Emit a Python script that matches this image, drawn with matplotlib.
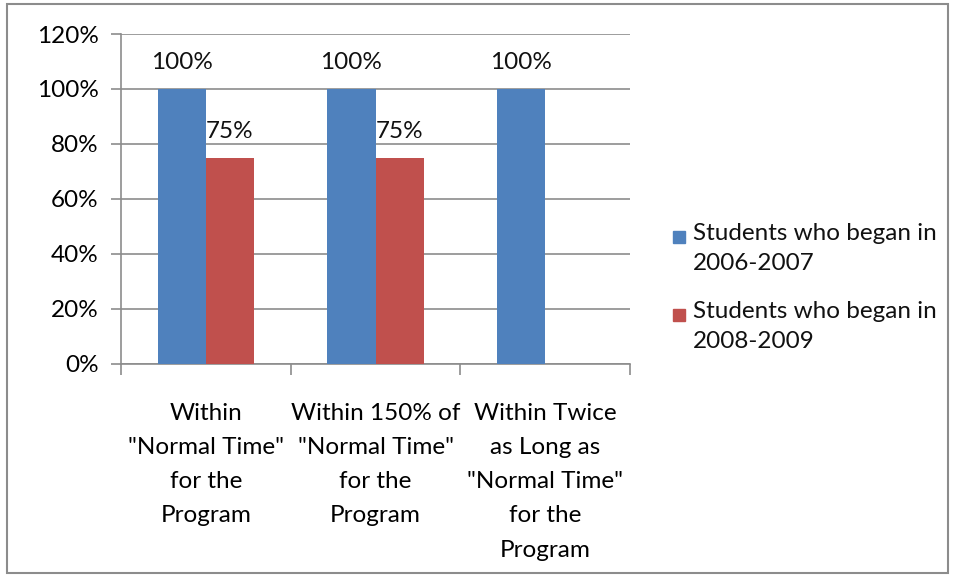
import matplotlib.pyplot as plt
from matplotlib.patches import Rectangle
from matplotlib.ticker import PercentFormatter

categories = ['Within\n"Normal Time"\nfor the\nProgram',
              'Within 150% of\n"Normal Time"\nfor the\nProgram',
              'Within Twice\nas Long as\n"Normal Time"\nfor the\nProgram']
series_names = ['Students who began in\n2006-2007', 'Students who began in\n2008-2009']
began_2006 = [1.00, 1.00, 1.00]
began_2008 = [0.75, 0.75, None]
colors = ['#4F81BD', '#C0504D']

plt.rcParams['font.family'] = ['Lato', 'DejaVu Sans']
fs = 17.5

fig = plt.figure(figsize=(9.56, 5.77), dpi=100)
ax = fig.add_axes([0.1266, 0.3698, 0.5324, 0.5712])

w = 0.285
x = range(len(categories))
for i, (vals, c) in enumerate(zip([began_2006, began_2008], colors)):
    off = (i - 0.5) * w
    for xi, v in zip(x, vals):
        if v is None:
            continue
        ax.bar(xi + off, v, width=w, color=c, zorder=3)
        ax.text(xi + off, v + 0.095, f'{v:.0%}', ha='center', va='center', fontsize=fs, color='#111111')

ax.set_xlim(-0.5, len(categories) - 0.5)
ax.set_ylim(0, 1.2)
ax.set_yticks([i * 0.2 for i in range(7)])
ax.yaxis.set_major_formatter(PercentFormatter(1.0, decimals=0))
ax.grid(axis='y', color='#8c8c8c', linewidth=1.2, zorder=0)

ax.set_xticks(list(x))
ax.set_xticklabels(categories, fontsize=fs, linespacing=1.78, va='top')
ax.set_xticks([k - 0.5 for k in range(len(categories) + 1)], minor=True)
ax.tick_params(axis='x', which='major', length=0, pad=28)
ax.tick_params(axis='x', which='minor', length=8, color='#8c8c8c', width=1.2)
ax.tick_params(axis='y', length=7, color='#8c8c8c', width=1.2, pad=9, labelsize=fs)

for s in ['top', 'right']:
    ax.spines[s].set_visible(False)
for s in ['left', 'bottom']:
    ax.spines[s].set_color('#8c8c8c')
    ax.spines[s].set_linewidth(1.2)

# legend drawn by hand so the square sits beside the first line
leg_y = [237, 315]
for name, c, yy in zip(series_names, colors, leg_y):
    fig.patches.append(Rectangle((673 / 956, 1 - (yy + 6) / 577), 12 / 956, 12 / 577,
                                 transform=fig.transFigure, color=c))
    fig.text(693 / 956, 1 - (yy - 14) / 577, name, fontsize=fs, va='top', ha='left',
             linespacing=1.5, color='#111111')

# outer chart border
fig.patches.append(Rectangle((7 / 956, 4 / 577), 941 / 956, 569 / 577, transform=fig.transFigure,
                             fill=False, edgecolor='#8c8c8c', linewidth=1.5))

fig.savefig('out.png', dpi=100)
